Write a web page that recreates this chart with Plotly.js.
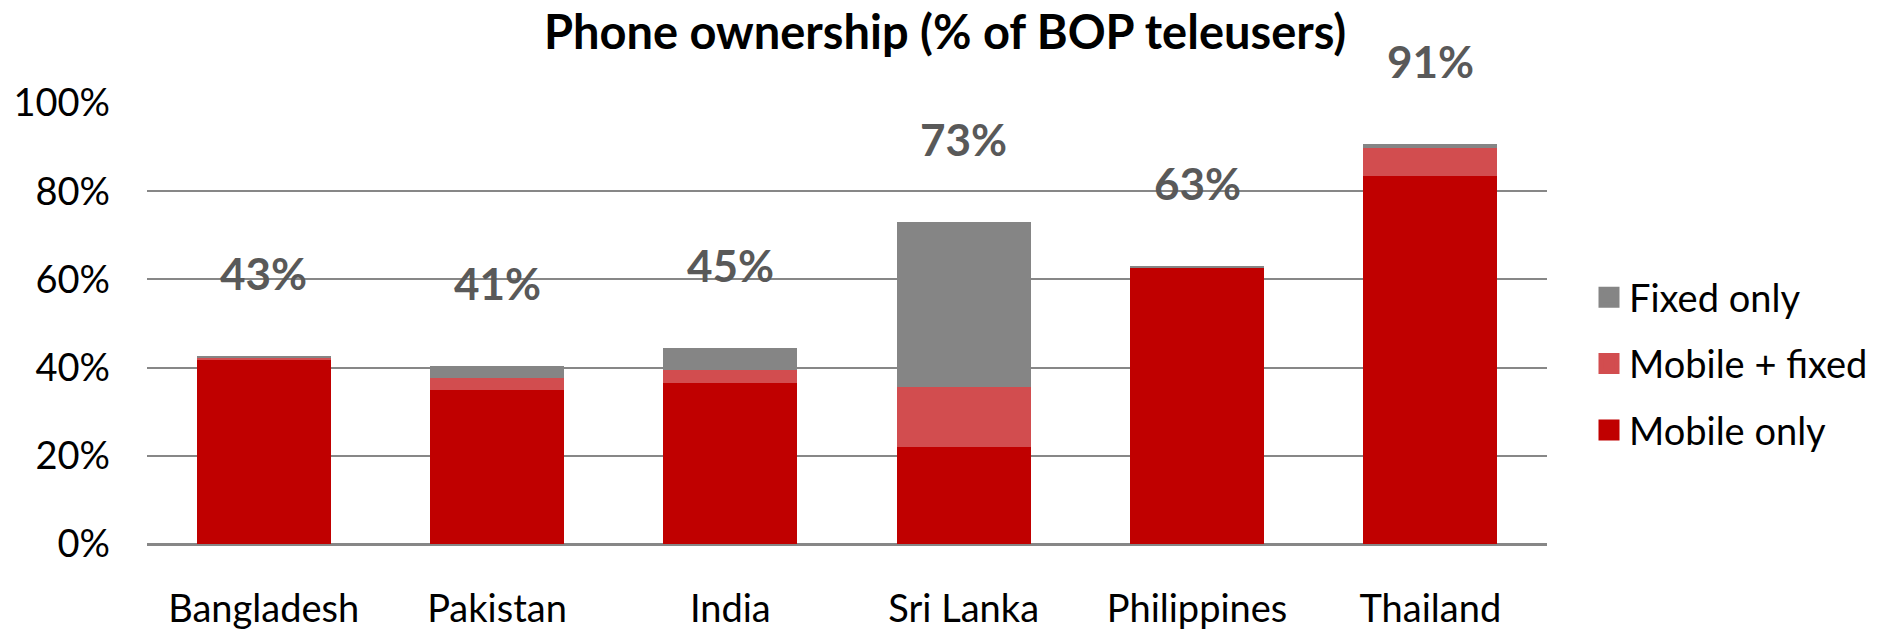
<!DOCTYPE html>
<html>
<head>
<meta charset="utf-8">
<script src="https://cdn.plot.ly/plotly-3.0.1.min.js"></script>
<style>
  html, body { margin: 0; padding: 0; background: #ffffff; }
  #chart { width: 1877px; height: 633px; }
</style>
</head>
<body>
<div id="chart"></div>
<script>
// ---- Data ----
const categories = ['Bangladesh', 'Pakistan', 'India', 'Sri Lanka', 'Philippines', 'Thailand'];
const mobileOnly  = [41.7, 35.0, 36.4, 21.9, 62.5, 83.4];
const mobileFixed = [0.4, 2.7, 3.1, 13.6, 0.0, 6.3];
const fixedOnly   = [0.6, 2.7, 5.0, 37.5, 0.5, 0.9];
const totalLabels = ['43%', '41%', '45%', '73%', '63%', '91%'];
const seriesNames = ['Mobile only', 'Mobile + fixed', 'Fixed only'];
const yTicks = [0, 20, 40, 60, 80, 100];

// ---- Styling ----
const FONT = 'Lato, "Open Sans", "Noto Sans", sans-serif';
const colors = ['#C00000', '#D24D4F', '#858585'];
const seriesValues = [mobileOnly, mobileFixed, fixedOnly];

const totals = categories.map((_, i) => mobileOnly[i] + mobileFixed[i] + fixedOnly[i]);

const barTraces = seriesValues.map((vals, k) => ({
  type: 'bar',
  name: seriesNames[k],
  x: categories,
  y: vals,
  marker: { color: colors[k], line: { width: 0 } },
  showlegend: false,
  hoverinfo: 'skip'
}));

// legend entries (larger square symbols than bar legends allow)
const legendOrder = [2, 1, 0];
const legendTraces = legendOrder.map(k => ({
  type: 'scatter',
  mode: 'markers',
  name: seriesNames[k],
  x: [null],
  y: [null],
  legendgroup: 'g' + k,
  marker: { symbol: 'square', size: 16, color: colors[k], line: { width: 5, color: colors[k] } },
  hoverinfo: 'skip'
}));

const annotations = categories.map((c, i) => ({
  x: c,
  y: totals[i],
  xref: 'x',
  yref: 'y',
  text: totalLabels[i],
  showarrow: false,
  yanchor: 'middle',
  yshift: 83,
  font: { family: FONT, size: 44, color: '#595959', weight: 'bold' }
}));

const layout = {
  width: 1877,
  height: 633,
  paper_bgcolor: '#ffffff',
  plot_bgcolor: '#ffffff',
  margin: { l: 147, r: 330, t: 103, b: 89 },
  barmode: 'stack',
  bargap: 0.426,
  hovermode: false,
  title: {
    text: '<b>Phone ownership (% of BOP teleusers)</b>',
    font: { family: FONT, size: 47, color: '#000000' },
    xref: 'container',
    yref: 'container',
    x: 0.5035,
    xanchor: 'center',
    y: 1 - 33 / 633,
    yanchor: 'middle'
  },
  xaxis: {
    type: 'category',
    categoryorder: 'array',
    categoryarray: categories,
    showgrid: false,
    showline: false,
    zeroline: false,
    ticks: '',
    ticklabelstandoff: 39,
    tickfont: { family: FONT, size: 38, color: '#000000' }
  },
  yaxis: {
    range: [0, 100],
    tickvals: yTicks,
    ticktext: yTicks.map(v => v + '%'),
    showgrid: true,
    gridcolor: '#878787',
    gridwidth: 2,
    zeroline: true,
    zerolinecolor: '#878787',
    zerolinewidth: 3,
    showline: false,
    ticks: '',
    ticklabelstandoff: 36,
    tickfont: { family: FONT, size: 38, color: '#000000' }
  },
  legend: {
    xref: 'container',
    yref: 'container',
    x: 1589 / 1877,
    xanchor: 'left',
    y: 1 - 364 / 633,
    yanchor: 'middle',
    traceorder: 'grouped',
    tracegroupgap: 14,
    font: { family: FONT, size: 38, color: '#000000' },
    bgcolor: 'rgba(0,0,0,0)',
    borderwidth: 0
  },
  annotations: annotations
};

Plotly.newPlot('chart', barTraces.concat(legendTraces), layout, { displayModeBar: false, staticPlot: true });
</script>
</body>
</html>
